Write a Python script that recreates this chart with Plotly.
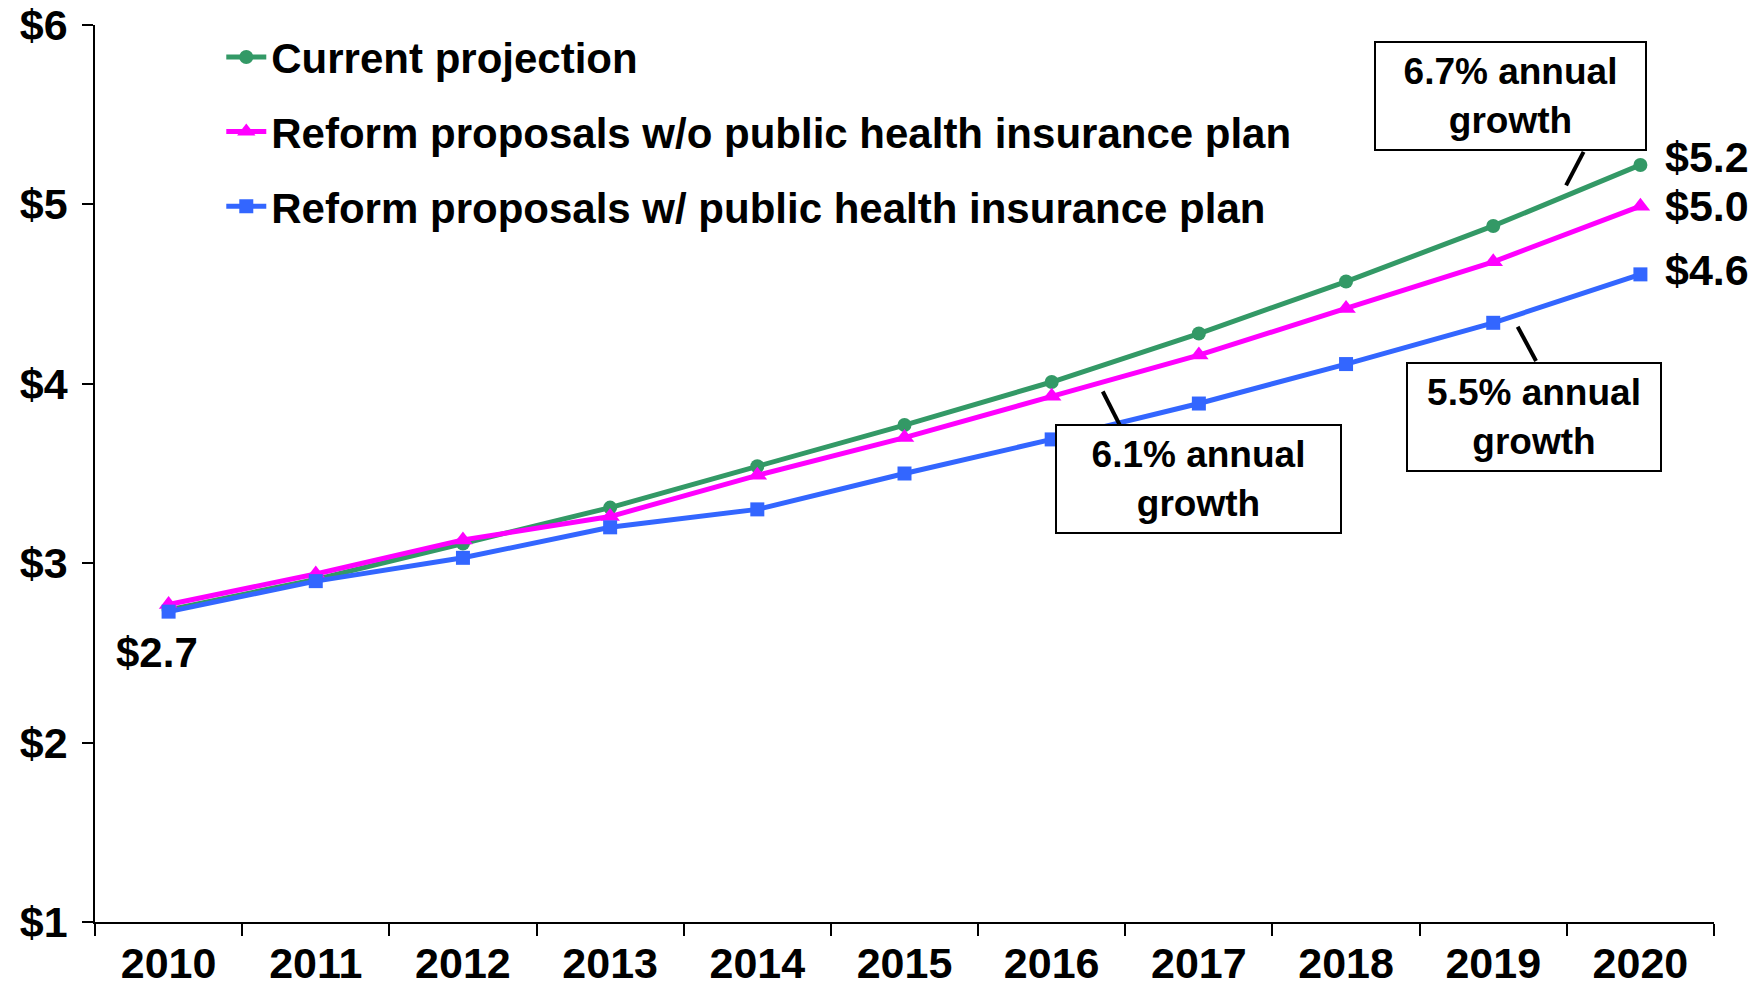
import plotly.graph_objects as go

# Projected national health expenditures, trillions of dollars
years = ["2010", "2011", "2012", "2013", "2014", "2015", "2016", "2017", "2018", "2019", "2020"]
current_projection = [2.74, 2.91, 3.11, 3.31, 3.54, 3.77, 4.01, 4.28, 4.57, 4.88, 5.22]
reform_without_public = [2.77, 2.94, 3.13, 3.26, 3.49, 3.70, 3.93, 4.16, 4.42, 4.68, 4.99]
reform_with_public = [2.73, 2.90, 3.03, 3.20, 3.30, 3.50, 3.69, 3.89, 4.11, 4.34, 4.61]

series_names = [
    "Current projection",
    "Reform proposals w/o public health insurance plan",
    "Reform proposals w/ public health insurance plan",
]
y_ticks = [1, 2, 3, 4, 5, 6]

FONT = "Liberation Sans, Arial, sans-serif"
GREEN = "#339966"
MAGENTA = "#FF00FF"
BLUE = "#3366FF"
DOLLAR = "&#36;"  # entity keeps the dollar sign from being read as TeX


def money(v, fmt="{:.1f}"):
    return DOLLAR + fmt.format(v)


fig = go.Figure()

styles = [
    (current_projection, GREEN, "circle", 14),
    (reform_without_public, MAGENTA, "triangle-up", 17),
    (reform_with_public, BLUE, "square", 14),
]
for i, (vals, color, symbol, size) in enumerate(styles):
    fig.add_trace(go.Scatter(
        x=years, y=vals, name=series_names[i], mode="lines+markers",
        line=dict(color=color, width=5),
        marker=dict(symbol=symbol, size=size, color=color),
        legendgroup=f"g{i}",
    ))

annotations = []
last = len(years) - 1  # category index of the final year

# End-point value labels
end_labels = [
    (current_projection[-1], 8),
    (reform_without_public[-1], 0),
    (reform_with_public[-1], 4),
]
for val, dy in end_labels:
    annotations.append(dict(
        x=last, y=val, xref="x", yref="y", text=money(val),
        showarrow=False, xanchor="left", yanchor="middle",
        xshift=23, yshift=dy,
        font=dict(family=FONT, size=43, color="black", weight="bold"),
    ))
# Starting value label
annotations.append(dict(
    x=0, y=reform_with_public[0], xref="x", yref="y",
    text=money(reform_with_public[0]), showarrow=False,
    xanchor="center", yanchor="middle", xshift=-12, yshift=-41,
    font=dict(family=FONT, size=42, color="black", weight="bold"),
))

# Growth-rate callout boxes: (text, x index, y value, width, height)
callouts = [
    ("6.7% annual<br>growth", 9.12, 5.607, 269, 106),
    ("6.1% annual<br>growth", 7.0, 3.468, 283, 106),
    ("5.5% annual<br>growth", 9.28, 3.817, 252, 106),
]
for text, cx, cy, w, h in callouts:
    annotations.append(dict(
        x=cx, y=cy, xref="x", yref="y", text=text, showarrow=False,
        xanchor="center", yanchor="middle", width=w, height=h,
        align="center", valign="middle",
        bgcolor="white", bordercolor="black", borderwidth=2, borderpad=0,
        font=dict(family=FONT, size=37, color="black", weight="bold"),
    ))

# Leader lines from callouts to their series
leaders = [
    (9.614, 5.293, 9.495, 5.106),
    (6.347, 3.957, 6.462, 3.771),
    (9.166, 4.318, 9.291, 4.127),
]
shapes = [
    dict(type="line", xref="x", yref="y", x0=a, y0=b, x1=c, y1=d,
         line=dict(color="black", width=4), layer="above")
    for a, b, c, d in leaders
]

fig.update_layout(
    width=1764, height=988,
    margin=dict(l=95, r=50, t=25, b=66, autoexpand=False),
    paper_bgcolor="white", plot_bgcolor="white",
    font=dict(family=FONT, size=42, color="black", weight="bold"),
    showlegend=True,
    legend=dict(
        x=0.078, y=1.002, xanchor="left", yanchor="top",
        bgcolor="rgba(0,0,0,0)", traceorder="grouped", tracegroupgap=17,
        font=dict(family=FONT, size=42, color="black", weight="bold"),
        itemwidth=40,
    ),
    annotations=annotations,
    shapes=shapes,
    xaxis=dict(
        type="category", range=[-0.5, 10.5], tickson="boundaries",
        showline=True, linecolor="black", linewidth=2,
        ticks="outside", ticklen=12, tickcolor="black", tickwidth=1.5,
        showgrid=False, zeroline=False, automargin=False,
        ticklabelstandoff=2,
        tickfont=dict(family=FONT, size=43, color="black", weight="bold"),
    ),
    yaxis=dict(
        range=[1, 6], tickvals=y_ticks, ticktext=[money(v, "{:d}") for v in y_ticks],
        showline=True, linecolor="black", linewidth=1.5,
        ticks="outside", ticklen=11, tickcolor="black", tickwidth=1.5,
        showgrid=False, zeroline=False, automargin=False,
        ticklabelstandoff=6,
        tickfont=dict(family=FONT, size=43, color="black", weight="bold"),
    ),
)

fig.write_html("out.html")
